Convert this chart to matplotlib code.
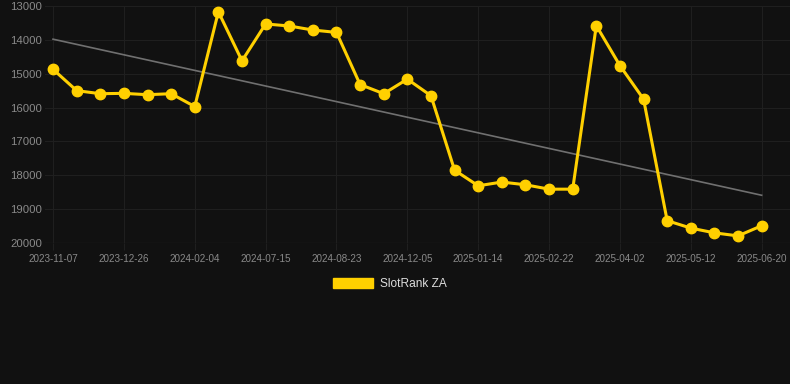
import numpy as np
import matplotlib.pyplot as plt
from matplotlib.patches import Patch

# data (rank, lower is better)
dates = ['2023-11-07', '', '', '2023-12-26', '', '', '2024-02-04', '', '',
         '2024-07-15', '', '', '2024-08-23', '', '', '2024-12-05', '', '',
         '2025-01-14', '', '', '2025-02-22', '', '', '2025-04-02', '', '',
         '2025-05-12', '', '', '2025-06-20']
rank = [14870, 15500, 15590, 15580, 15620, 15590, 15970, 13170, 14620, 13530,
        13590, 13710, 13780, 15320, 15590, 15160, 15650, 17850, 18310, 18200,
        18280, 18410, 18410, 13580, 14760, 15750, 19340, 19560, 19700, 19790,
        19490]
trend_ends = [13980, 18590]
y_ticks = [13000, 14000, 15000, 16000, 17000, 18000, 19000, 20000]

bg = '#111111'
yellow = '#ffd000'

plt.rcParams['font.family'] = ['Liberation Sans', 'DejaVu Sans']

fig = plt.figure(figsize=(7.9, 3.84), dpi=100, facecolor=bg)
ax = fig.add_axes([45/790, 141/384, 745/790, 237/384], facecolor=bg)

x = np.arange(len(rank))
ax.plot([x[0], x[-1]], trend_ends, color='#707070', lw=1.2, zorder=2)
ax.plot(x, rank, color=yellow, lw=2.2, marker='o', ms=7.5, zorder=3)

ax.set_ylim(20000, 13000)
ax.set_yticks(y_ticks)
ax.set_xlim(-0.34, 31.2)
tick_idx = [i for i, d in enumerate(dates) if d]
ax.set_xticks(tick_idx)
ax.set_xticklabels([dates[i] for i in tick_idx])

ax.grid(True, color='#1f1f1f', lw=0.8)
for s in ax.spines.values():
    s.set_visible(False)
ax.axhline(20000, color='#262626', lw=0.9, zorder=1)
ax.tick_params(axis='x', colors='#1f1f1f', length=5, width=0.8, labelcolor='#8a8a8a',
               labelsize=7.1, pad=3)
ax.tick_params(axis='y', length=0, labelcolor='#8a8a8a', labelsize=8.2, pad=2)

fig.legend(handles=[Patch(facecolor=yellow, edgecolor=yellow, label='SlotRank ZA')],
           loc='center', bbox_to_anchor=(390/790, 1 - 284/384), frameon=False,
           fontsize=8.6, labelcolor='#dddddd', handlelength=3.3, handleheight=1.0,
           handletextpad=0.6)

fig.savefig('out.png', dpi=100, facecolor=bg)
